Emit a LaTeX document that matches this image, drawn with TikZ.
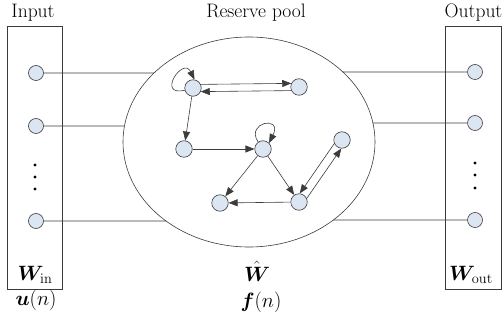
\documentclass[tikz,border=0pt]{standalone}
\usepackage{bm}
\usetikzlibrary{arrows.meta,intersections}
\definecolor{nodefill}{RGB}{220,230,242}
\definecolor{edgecol}{RGB}{60,60,60}
\begin{document}
\begin{tikzpicture}[x=1pt,y=-1pt,
  neuron/.style={circle,draw=edgecol,fill=nodefill,line width=0.6pt,minimum size=16.5pt,inner sep=0pt},
  io/.style={neuron,minimum size=15pt},
  link/.style={draw=edgecol,line width=0.6pt},
  arr/.style={link,-{Triangle[length=9pt,width=7pt]}},
  frame/.style={draw=edgecol,line width=0.6pt},
  dotn/.style={circle,fill=black,inner sep=0pt,minimum size=3.4pt},
  lbl/.style={font=\fontsize{19.5}{21}\selectfont,anchor=base,inner sep=0pt},
  sym/.style={font=\fontsize{19.5}{21}\selectfont,anchor=base,inner sep=0pt}
]
\useasboundingbox (0,0) rectangle (502,320);

% frames
\draw[frame] (7,26) rectangle (62,289);
\draw[frame] (445,26) rectangle (501,289);
\draw[frame,name path=ell] (249,142) ellipse [x radius=126, y radius=105];

% titles
\node[lbl] (tin) at (33,18) {Input};
\node[lbl] (tpool) at (256,18) {Reserve pool};
\node[lbl] (tout) at (473.5,18) {Output};

% input units
\node[io] (in1) at (36,73) {};
\node[io] (in2) at (36,126) {};
\node[io] (in3) at (36,221) {};
\node[dotn] (di1) at (35,165) {};
\node[dotn] (di2) at (35,177) {};
\node[dotn] (di3) at (35,189) {};

% output units
\node[io] (out1) at (475,72) {};
\node[io] (out2) at (475,123) {};
\node[io] (out3) at (475,220) {};
\node[dotn] (do1) at (475,163) {};
\node[dotn] (do2) at (475,175) {};
\node[dotn] (do3) at (475,188) {};

% reservoir units
\node[neuron] (A) at (193,88) {};
\node[neuron] (B) at (299,87) {};
\node[neuron] (C) at (184,149) {};
\node[neuron] (D) at (263,149) {};
\node[neuron] (E) at (342,140) {};
\node[neuron] (F) at (220,203) {};
\node[neuron] (G) at (299,202) {};

% connections to the pool
\path[name path=l1] (in1.center) -- (249,73);
\path[name path=l2] (in2.center) -- (249,126);
\path[name path=l3] (in3.center) -- (249,221);
\path[name path=r1] (out1.center) -- (249,72);
\path[name path=r2] (out2.center) -- (249,123);
\path[name path=r3] (out3.center) -- (249,220);
\path[name intersections={of=ell and l1,by=el1}];
\path[name intersections={of=ell and l2,by=el2}];
\path[name intersections={of=ell and l3,by=el3}];
\path[name intersections={of=ell and r1,by=er1}];
\path[name intersections={of=ell and r2,by=er2}];
\path[name intersections={of=ell and r3,by=er3}];
\draw[link] (in1) -- (el1);
\draw[link] (in2) -- (el2);
\draw[link] (in3) -- (el3);
\draw[link] (out1) -- (er1);
\draw[link] (out2) -- (er2);
\draw[link] (out3) -- (er3);

% reservoir edges
\draw[arr] (A.195) .. controls (156,97) and (183,56) .. (A.80);
\draw[arr] (D.125) .. controls (245,122) and (283,115) .. (D.45);
\draw[arr] (A.25) -- (B.155);
\draw[arr] (B.205) -- (A.335);
\draw[arr] (A) -- (C);
\draw[arr] (C) -- (D);
\draw[arr] (D) -- (F);
\draw[arr] (D) -- (G);
\draw[arr] (G) -- (F);
\draw[arr] (E.205) -- (G.85);
\draw[arr] (G.25) -- (E.265);

% symbols
\node[sym] (win) at (35,280) {$\bm{W}_{\mathrm{in}}$};
\node[sym] (wout) at (471,280) {$\bm{W}_{\mathrm{out}}$};
\node[sym] (uu) at (36,305) {$\bm{u}(n)$};
\node[sym] (wh) at (257,281) {$\hat{\bm{W}}$};
\node[sym] (ff) at (261,307) {$\bm{f}(n)$};
\end{tikzpicture}
\end{document}
